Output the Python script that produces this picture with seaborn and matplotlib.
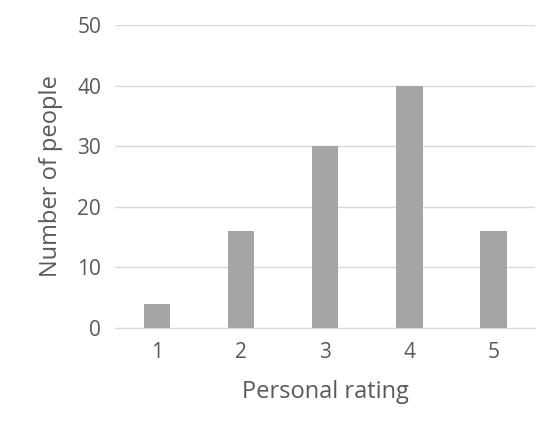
import matplotlib
matplotlib.use('Agg')
import matplotlib.pyplot as plt
import seaborn as sns
import pandas as pd

ratings = ['1', '2', '3', '4', '5']
counts  = [4, 16, 30, 40, 16]
yticks  = [0, 10, 20, 30, 40, 50]

sns.set_style('white')
plt.rcParams['font.family'] = ['Open Sans', 'DejaVu Sans']
TEXT = '#595959'

df = pd.DataFrame({'rating': ratings, 'count': counts})

fig = plt.figure(figsize=(5.5, 4.38), dpi=100)
ax = fig.add_axes([0.209, 0.251, 0.764, 0.692])
sns.barplot(data=df, x='rating', y='count', color='#A5A5A5', saturation=1,
            width=0.32, ax=ax, zorder=3, linewidth=0)

ax.set_ylim(0, 50)
ax.set_xlim(-0.5, 4.5)
ax.set_yticks(yticks)
ax.yaxis.grid(True, color='#D9D9D9', linewidth=1, zorder=0)
ax.set_axisbelow(True)
for s in ['top', 'right', 'left']:
    ax.spines[s].set_visible(False)
ax.spines['bottom'].set_color('#D9D9D9')
ax.tick_params(length=0, labelsize=15, colors=TEXT, pad=10)
ax.set_xlabel('Personal rating', fontsize=17, color=TEXT, labelpad=12)
ax.set_ylabel('Number of people', fontsize=17, color=TEXT, labelpad=10)

fig.savefig('out.png', dpi=100)
